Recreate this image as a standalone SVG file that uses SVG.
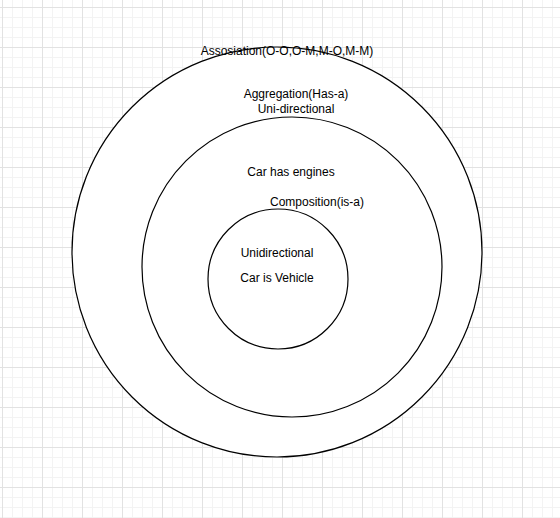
<svg xmlns="http://www.w3.org/2000/svg" width="560" height="518" viewBox="0 0 560 518">
<defs>
<pattern id="minor" x="2" y="7" width="10" height="10" patternUnits="userSpaceOnUse">
<path d="M0.5 0V10M0 0.5H10" stroke="#f3f3f3" stroke-width="1" fill="none"/>
</pattern>
<pattern id="major" x="2" y="7" width="40" height="40" patternUnits="userSpaceOnUse">
<path d="M0.5 0V40M0 0.5H40" stroke="#e2e2e2" stroke-width="1" fill="none"/>
</pattern>
</defs>
<style>
.c{fill:#ffffff;stroke:#000000;stroke-width:1.2}
.t{font-family:"Liberation Sans",Arial,sans-serif;font-size:12px;fill:#000000;text-anchor:middle}
</style>
<rect width="560" height="518" fill="#ffffff"/>
<rect width="560" height="518" fill="url(#minor)"/>
<rect width="560" height="518" fill="url(#major)"/>
<g id="association">
<circle class="c" cx="277" cy="252" r="205"/>
<text class="t" x="287" y="55">Assosiation(O-O,O-M,M-O,M-M)</text>
</g>
<g id="aggregation">
<circle class="c" cx="292" cy="267" r="150"/>
<text class="t" x="296" y="98">Aggregation(Has-a)</text>
<text class="t" x="296" y="113">Uni-directional</text>
<text class="t" x="291" y="176">Car has engines</text>
</g>
<g id="composition">
<circle class="c" cx="278" cy="279" r="70"/>
<text class="t" x="317" y="206">Composition(is-a)</text>
<text class="t" x="277" y="257">Unidirectional</text>
<text class="t" x="277" y="282">Car is Vehicle</text>
</g>
<g id="connectors"/>
</svg>
